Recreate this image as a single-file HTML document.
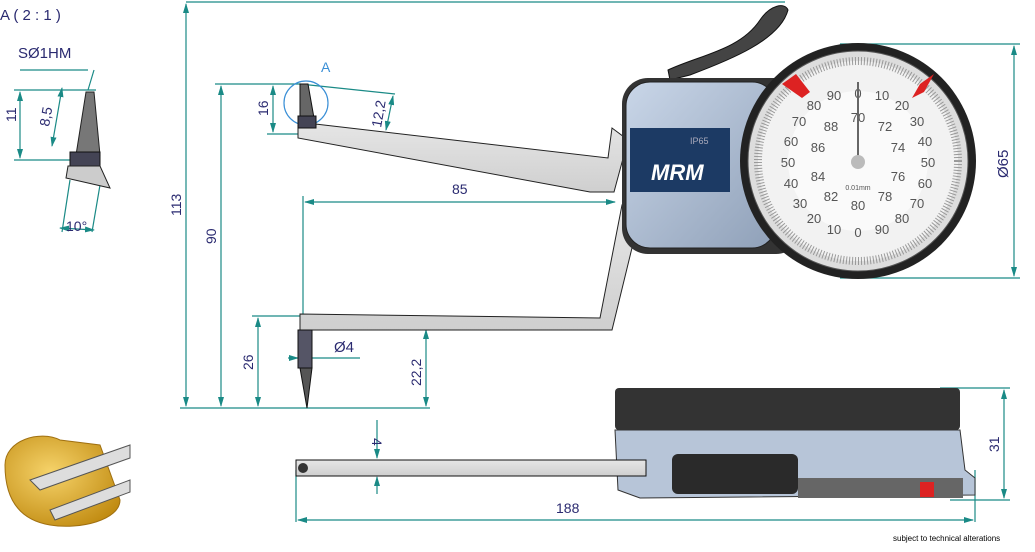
<!DOCTYPE html>
<html><head><meta charset="utf-8"><style>
html,body{margin:0;padding:0;background:#fff;width:1035px;height:552px;overflow:hidden}
svg text{font-family:"Liberation Sans",sans-serif}
</style></head><body>
<svg width="1035" height="552" viewBox="0 0 1035 552" xmlns="http://www.w3.org/2000/svg">
<defs>
<marker id="a" markerWidth="10" markerHeight="6" refX="9" refY="3" orient="auto-start-reverse" markerUnits="userSpaceOnUse"><path d="M0,0 L10,3 L0,6z" fill="#1a8a86"/></marker>
<linearGradient id="bar" x1="0" y1="0" x2="0" y2="1"><stop offset="0" stop-color="#e6e6e6"/><stop offset="1" stop-color="#cfcfcf"/></linearGradient>
<linearGradient id="body" x1="0" y1="0" x2="1" y2="1"><stop offset="0" stop-color="#c9d6e8"/><stop offset="1" stop-color="#8fa0b8"/></linearGradient>
<radialGradient id="gold" cx="0.4" cy="0.4" r="0.7"><stop offset="0" stop-color="#f6d36a"/><stop offset="1" stop-color="#c08a10"/></radialGradient>
</defs>
<g stroke="#1a8a86" stroke-width="1.2" fill="none">
<line x1="186" y1="2" x2="785" y2="2"/>
<line x1="186" y1="4" x2="186" y2="406" marker-start="url(#a)" marker-end="url(#a)"/>
<line x1="180" y1="408" x2="430" y2="408"/>
<line x1="215" y1="84" x2="300" y2="84"/>
<line x1="221" y1="86" x2="221" y2="406" marker-start="url(#a)" marker-end="url(#a)"/>
<line x1="252" y1="316" x2="300" y2="316"/>
<line x1="258" y1="318" x2="258" y2="406" marker-start="url(#a)" marker-end="url(#a)"/>
<line x1="426" y1="330" x2="426" y2="406" marker-start="url(#a)" marker-end="url(#a)"/>
<line x1="273" y1="86" x2="273" y2="132" marker-start="url(#a)" marker-end="url(#a)"/>
<line x1="267" y1="134" x2="298" y2="134"/>
<line x1="300" y1="84" x2="395" y2="94"/>
<line x1="393" y1="96" x2="386" y2="130" marker-start="url(#a)" marker-end="url(#a)"/>
<circle cx="306" cy="103" r="22" stroke="#3a8fd6"/>
<line x1="303" y1="196" x2="303" y2="316"/>
<line x1="305" y1="202" x2="615" y2="202" marker-start="url(#a)" marker-end="url(#a)"/>
<line x1="288" y1="358" x2="298" y2="358" marker-end="url(#a)"/>
<line x1="312" y1="358" x2="360" y2="358"/>
<line x1="840" y1="44" x2="1020" y2="44"/>
<line x1="840" y1="278" x2="1020" y2="278"/>
<line x1="1014" y1="46" x2="1014" y2="276" marker-start="url(#a)" marker-end="url(#a)"/>
<line x1="940" y1="388" x2="1010" y2="388"/>
<line x1="950" y1="500" x2="1010" y2="500"/>
<line x1="1004" y1="390" x2="1004" y2="498" marker-start="url(#a)" marker-end="url(#a)"/>
<line x1="296" y1="470" x2="296" y2="522"/>
<line x1="975" y1="470" x2="975" y2="522"/>
<line x1="298" y1="520" x2="973" y2="520" marker-start="url(#a)" marker-end="url(#a)"/>
<line x1="377" y1="420" x2="377" y2="458" marker-end="url(#a)"/>
<line x1="377" y1="494" x2="377" y2="477" marker-end="url(#a)"/>
<line x1="14" y1="90" x2="96" y2="90"/>
<line x1="20" y1="92" x2="20" y2="158" marker-start="url(#a)" marker-end="url(#a)"/>
<line x1="14" y1="160" x2="70" y2="160"/>
<line x1="62" y1="88" x2="52" y2="146" marker-start="url(#a)" marker-end="url(#a)"/>
<line x1="88" y1="90" x2="94" y2="70"/>
<line x1="20" y1="70" x2="88" y2="70"/>
<line x1="70" y1="180" x2="62" y2="232"/>
<line x1="100" y1="185" x2="92" y2="232"/>
<line x1="60" y1="228" x2="94" y2="230" marker-start="url(#a)" marker-end="url(#a)"/>
</g>
<g fill="#2a2a70" font-size="14">
<text x="0" y="20" font-size="15">A ( 2 : 1 )</text>
<text x="18" y="58" font-size="15">SØ1HM</text>
<text transform="translate(16,122) rotate(-90)">11</text>
<text transform="translate(49,127) rotate(-80)">8,5</text>
<text x="66" y="231">10°</text>
<text transform="translate(181,216) rotate(-90)">113</text>
<text transform="translate(216,244) rotate(-90)">90</text>
<text transform="translate(253,370) rotate(-90)">26</text>
<text transform="translate(421,386) rotate(-90)">22,2</text>
<text transform="translate(268,116) rotate(-90)">16</text>
<text transform="translate(381,128) rotate(-80)">12,2</text>
<text x="321" y="72" fill="#3a8fd6">A</text>
<text x="452" y="194">85</text>
<text x="334" y="352" font-size="15">Ø4</text>
<text transform="translate(1008,178) rotate(-90)" font-size="15">Ø65</text>
<text transform="translate(999,452) rotate(-90)">31</text>
<text transform="translate(372,438) rotate(90)">4</text>
<text x="556" y="513">188</text>
<text x="893" y="541" font-size="8" fill="#000">subject to technical alterations</text>
</g>
<path d="M86,92 L94,92 L100,155 L76,155z" fill="#777" stroke="#222"/>
<rect x="70" y="152" width="30" height="14" fill="#445" stroke="#111"/>
<path d="M68,166 L100,166 L110,188 L66,178z" fill="#ccc" stroke="#222"/>
<path d="M298,122 L608,158 L612,128 L628,140 L614,192 L590,192 L298,138z" fill="url(#bar)" stroke="#222"/>
<path d="M300,84 L308,84 L314,118 L300,118z" fill="#666" stroke="#111"/>
<rect x="298" y="116" width="18" height="12" fill="#445" stroke="#111"/>
<path d="M300,314 L600,318 L622,205 L640,215 L612,330 L300,330z" fill="url(#bar)" stroke="#222"/>
<rect x="298" y="330" width="14" height="38" fill="#556" stroke="#111"/>
<path d="M300,368 L312,368 L307,408z" fill="#555" stroke="#111"/>
<path d="M668,70 C700,55 740,50 760,20 C770,5 785,2 788,10 C780,40 730,60 690,75 L670,80z" fill="#444" stroke="#111"/>
<rect x="622" y="78" width="180" height="176" rx="26" fill="#333"/>
<rect x="626" y="82" width="150" height="166" rx="24" fill="url(#body)" stroke="#222"/>
<rect x="630" y="128" width="100" height="64" fill="#1c3a64"/>
<text x="651" y="180" font-size="22" font-weight="bold" font-style="italic" fill="#fff">MRM</text>
<text x="690" y="144" font-size="9" fill="#aab">IP65</text>
<circle cx="858" cy="161" r="118" fill="#222"/>
<circle cx="858" cy="161" r="110" fill="#ddd" stroke="#555"/>
<circle cx="858" cy="161" r="100" fill="#f2f2f2" stroke="#999" stroke-width="8" stroke-dasharray="1 2"/>
<circle cx="858" cy="161" r="70" fill="#fafafa"/>
<g font-size="13" fill="#555" text-anchor="middle">
<text x="858" y="98">0</text><text x="882" y="100">10</text><text x="902" y="110">20</text><text x="917" y="126">30</text><text x="925" y="146">40</text><text x="928" y="167">50</text><text x="925" y="188">60</text><text x="917" y="208">70</text><text x="902" y="223">80</text><text x="882" y="234">90</text><text x="858" y="237">0</text><text x="834" y="234">10</text><text x="814" y="223">20</text><text x="800" y="208">30</text><text x="791" y="188">40</text><text x="788" y="167">50</text><text x="791" y="146">60</text><text x="799" y="126">70</text><text x="814" y="110">80</text><text x="834" y="100">90</text>
<text x="858" y="122">70</text><text x="885" y="131">72</text><text x="898" y="152">74</text><text x="898" y="181">76</text><text x="885" y="201">78</text><text x="858" y="210">80</text><text x="831" y="201">82</text><text x="818" y="181">84</text><text x="818" y="152">86</text><text x="831" y="131">88</text>
<text x="858" y="190" font-size="7">0.01mm</text>
</g>
<line x1="858" y1="82" x2="858" y2="160" stroke="#666" stroke-width="2"/>
<circle cx="858" cy="162" r="7" fill="#bbb"/>
<path d="M782,84 L796,74 L810,92 L802,98z" fill="#d22"/>
<path d="M934,74 L920,84 L912,98 L924,92z" fill="#d22"/>
<rect x="615" y="388" width="345" height="42" rx="4" fill="#333"/>
<path d="M615,430 L960,430 L965,470 L975,478 L975,495 L640,498 L618,490z" fill="#b7c5d8" stroke="#333"/>
<rect x="296" y="460" width="350" height="16" fill="url(#bar)" stroke="#111"/>
<circle cx="303" cy="468" r="5" fill="#333"/>
<rect x="672" y="454" width="126" height="40" rx="6" fill="#2a2a2a"/>
<rect x="798" y="478" width="165" height="20" fill="#666"/>
<rect x="920" y="482" width="14" height="15" fill="#d22"/>
<path d="M5,465 C5,440 40,430 60,440 L100,445 L120,500 C120,520 80,530 50,525 C20,520 5,500 5,465z" fill="url(#gold)" stroke="#a07010"/>
<path d="M30,480 L130,445 L130,458 L40,490z M50,510 L130,480 L130,492 L55,520z" fill="#ddd" stroke="#555"/>
</svg>
</body></html>
